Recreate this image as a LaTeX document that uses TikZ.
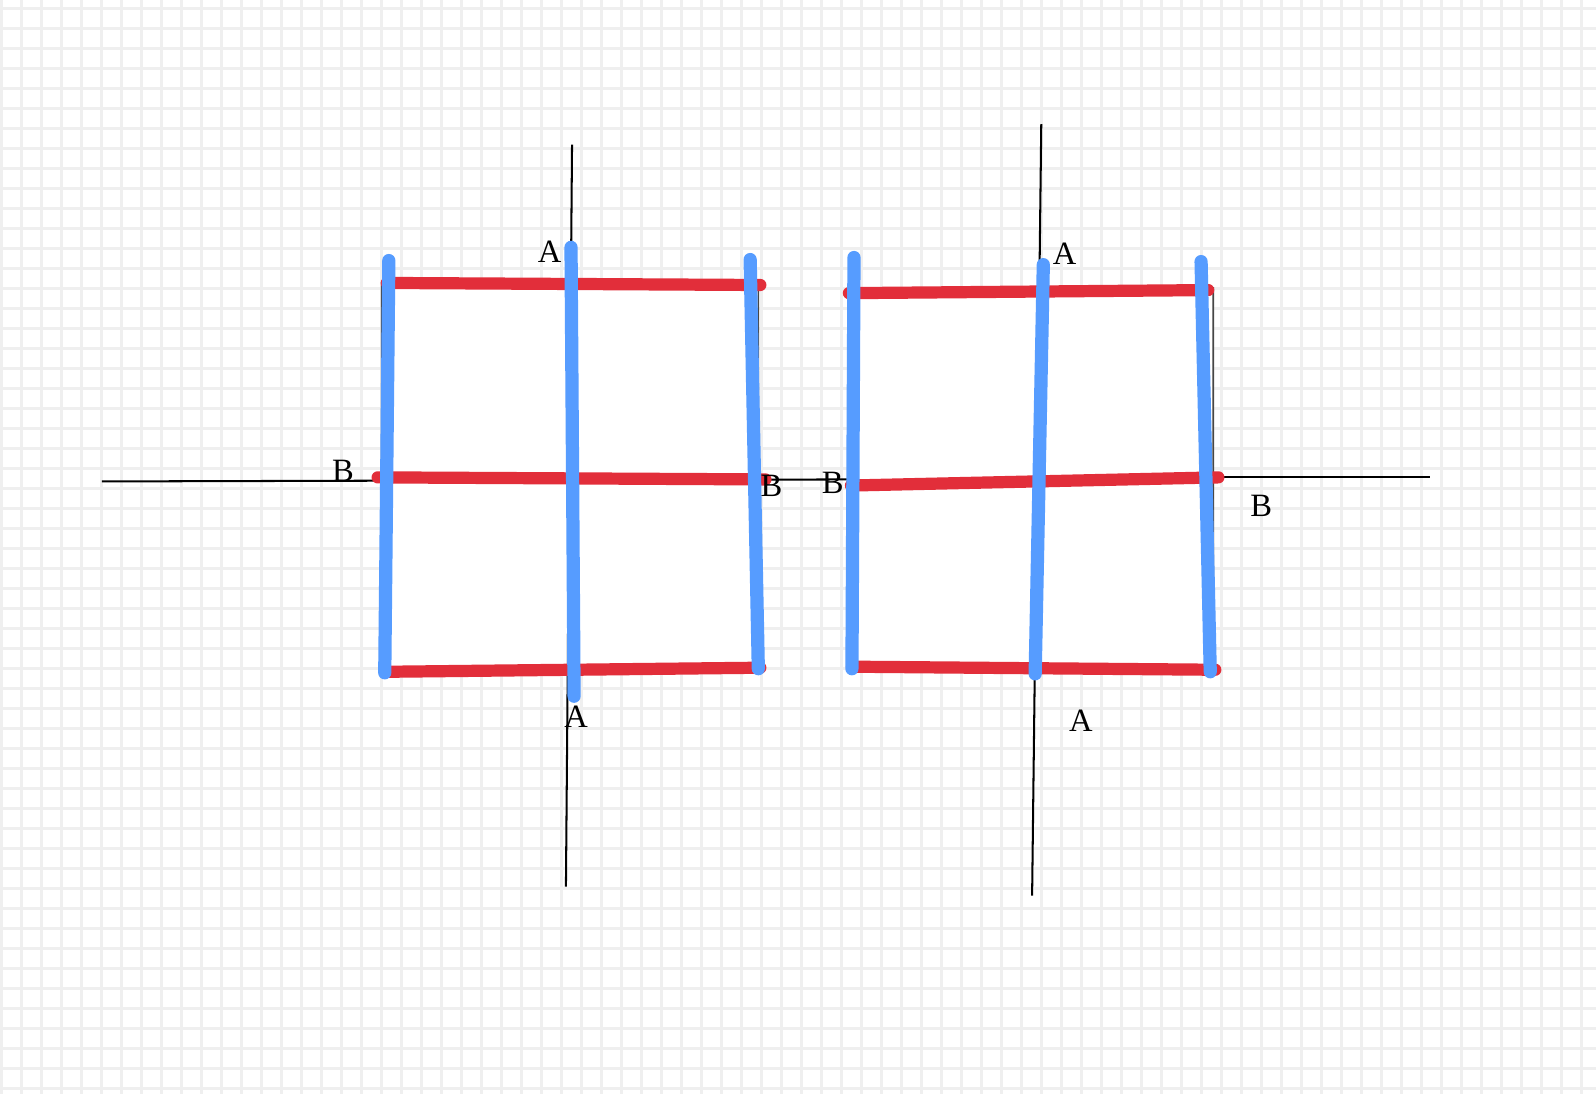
\documentclass[tikz,border=0pt]{standalone}
\usepackage{fontspec}
\setmainfont{Liberation Serif}
\definecolor{gridc}{RGB}{239,239,239}
\definecolor{bl}{RGB}{86,156,255}
\definecolor{rd}{RGB}{226,46,58}
\definecolor{thin}{RGB}{70,70,70}
\begin{document}
\begin{tikzpicture}[x=1pt,y=-1pt,
  gridline/.style={gridc,line width=2.8pt},
  blueline/.style={bl,line width=13pt,line cap=round},
  redline/.style={rd,line width=12pt,line cap=round},
  thinline/.style={thin,line width=2pt},
  lbl/.style={font=\fontsize{32}{36}\selectfont,inner sep=0pt,text=black}]
\useasboundingbox (0,0) rectangle (1568,1075);
\fill[white] (0,0) rectangle (1568,1075);
% grid
\foreach \i in {0,...,80} {
  \draw[gridline] ({1.5+19.65*\i},0) -- ({1.5+19.65*\i},1075);
}
\foreach \j in {0,...,55} {
  \draw[gridline] (0,{8+19.65*\j}) -- (1568,{8+19.65*\j});
}
% square backgrounds
\filldraw[fill=white,draw=thin,line width=1.6pt] (375,278) -- (745,279) -- (745,658) -- (375,660) -- cycle;
\filldraw[fill=white,draw=thin,line width=1.6pt] (835,287) -- (1192,283) -- (1192,658) -- (835,655) -- cycle;
% thin axes
\draw[thinline] (562,142) -- (556,871);
\draw[thinline] (100,473) -- (840,471);
\draw[thinline] (1023,122) -- (1014,880);
\draw[thinline] (1190,469) -- (1405,469);
% red lines
\draw[redline] (380,278) -- (747,280);
\draw[redline] (371,469) -- (752,471);
\draw[redline] (379,660) -- (747,656);
\draw[redline] (834,288) -- (1187,285);
\draw[redline] (836,477) -- (1197,469);
\draw[redline] (837,655) -- (1194,658);
% blue lines
\draw[blueline] (382,256) -- (378,661);
\draw[blueline] (561,243) -- (564,684);
\draw[blueline] (737,255) -- (745,657);
\draw[blueline] (839,253) -- (837,657);
\draw[blueline] (1025,260) -- (1017,662);
\draw[blueline] (1180,257) -- (1189,660);
% labels
\node[lbl] (a1) at (540,247) {A};
\node[lbl] (b1) at (337,463) {B};
\node[lbl] (b2) at (758,477) {B};
\node[lbl] (a2) at (566,704) {A};
\node[lbl] (a3) at (1046,249) {A};
\node[lbl] (b3) at (818,474) {B};
\node[lbl] (b4) at (1239,497) {B};
\node[lbl] (a4) at (1062,708) {A};
\end{tikzpicture}
\end{document}
